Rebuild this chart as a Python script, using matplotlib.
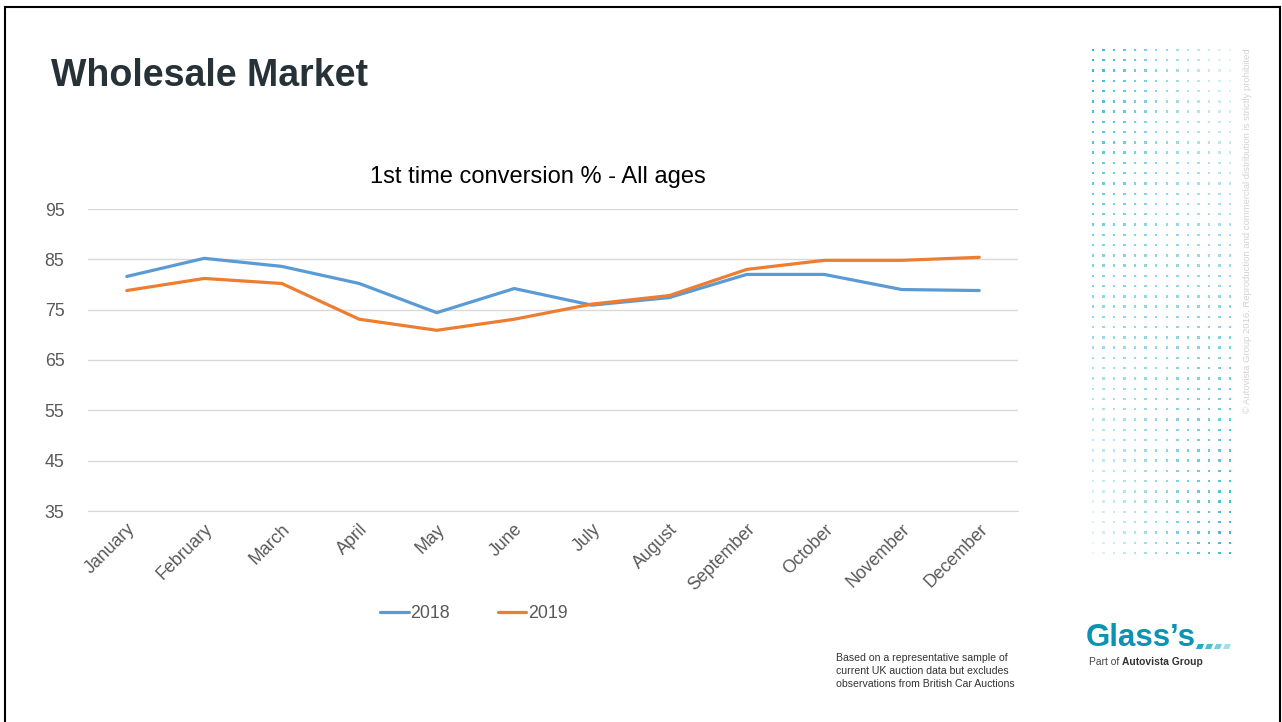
import numpy as np
import matplotlib
matplotlib.use('Agg')
import matplotlib.pyplot as plt
from matplotlib.lines import Line2D

# --- dati ---
mesi = ['January', 'February', 'March', 'April', 'May', 'June', 'July',
        'August', 'September', 'October', 'November', 'December']
conv_2018 = [81.6, 85.2, 83.6, 80.2, 74.4, 79.2, 75.9, 77.4, 82.0, 82.0, 79.0, 78.8]
conv_2019 = [78.8, 81.2, 80.2, 73.1, 70.9, 73.1, 76.1, 77.8, 83.0, 84.8, 84.8, 85.4]
y_ticks = [35, 45, 55, 65, 75, 85, 95]

BLU = '#5B9BD5'
ARANCIO = '#ED7D31'
GRIGIO = '#595959'

plt.rcParams['font.family'] = ['Liberation Sans', 'DejaVu Sans']

W, H = 1282, 722
fig = plt.figure(figsize=(W / 100, H / 100), dpi=100)


def fx(px):
    return px / W


def fy(py):
    return 1 - py / H


# cornice della slide
fig.add_artist(Line2D([fx(5), fx(5)], [fy(7), 0], color='black', lw=1.5))
fig.add_artist(Line2D([fx(5), fx(1280)], [fy(7), fy(7)], color='black', lw=1.5))
fig.add_artist(Line2D([fx(1280), fx(1280)], [fy(7), 0], color='black', lw=1.5))

# titolo della slide
fig.text(fx(51), fy(76), 'Wholesale Market', fontsize=27, fontweight='bold',
         color='#263238', va='center', ha='left')

# --- grafico principale ---
ax = fig.add_axes([fx(88), fy(511), fx(1018) - fx(88), (511 - 209) / H])
x = np.arange(len(mesi))
ax.plot(x, conv_2018, color=BLU, lw=2.3, label='2018', solid_capstyle='round')
ax.plot(x, conv_2019, color=ARANCIO, lw=2.3, label='2019', solid_capstyle='round')

ax.set_xlim(-0.5, len(mesi) - 0.5)
ax.set_ylim(35, 95)
ax.set_yticks(y_ticks)
ax.set_xticks(x)
ax.set_xticklabels(mesi, rotation=45, ha='right', rotation_mode='anchor')
ax.tick_params(axis='both', length=0, labelsize=12.8, labelcolor=GRIGIO)
ax.tick_params(axis='y', pad=17)
ax.tick_params(axis='x', pad=7)
ax.grid(axis='y', color='#D9D9D9', lw=1)
ax.set_axisbelow(True)
for s in ax.spines.values():
    s.set_visible(False)
ax.spines['bottom'].set_visible(True)
ax.spines['bottom'].set_color('#D9D9D9')

fig.text(fx(538), fy(177), '1st time conversion % - All ages', fontsize=17,
         color='black', ha='center', va='center')

leg = ax.legend(loc='center', bbox_to_anchor=(fx(474), fy(614)),
                bbox_transform=fig.transFigure, ncol=2, frameon=False,
                fontsize=12.8, handlelength=1.6, handletextpad=0.1,
                columnspacing=2.7)
for t in leg.get_texts():
    t.set_color(GRIGIO)

# nota a piè di pagina
fig.text(fx(836), fy(653), 'Based on a representative sample of\n'
         'current UK auction data but excludes\n'
         'observations from British Car Auctions',
         fontsize=7.6, color='#333333', ha='left', va='top', linespacing=1.38)

# --- decorazione a puntini ---
cols, rows = 14, 50
gx = np.linspace(1093, 1230, cols)
gy = np.linspace(50, 553, rows)
XX, YY = np.meshgrid(gx, gy)
c = (XX - gx[0]) / (gx[-1] - gx[0])
r = (YY - gy[0]) / (gy[-1] - gy[0])
alpha = 0.1 + 0.8 * ((1 - c) * (1 - r) + c * r)
colori = np.zeros((XX.size, 4))
colori[:, :3] = matplotlib.colors.to_rgb('#1AB2C8')
colori[:, 3] = alpha.ravel()
dec = fig.add_axes([0, 0, 1, 1], zorder=-1)
dec.set_xlim(0, W)
dec.set_ylim(H, 0)
dec.axis('off')
dec.scatter(XX.ravel(), YY.ravel(), s=3.0, c=colori, marker='s', linewidths=0)

fig.text(fx(1247), fy(48), '© Autovista Group 2016. Reproduction and commercial '
         'distribution is strictly prohibited', rotation=90, fontsize=6.8,
         color='#D3D3D3', ha='center', va='top')

# logo
fig.text(fx(1086), fy(638), 'Glass\u2019s', fontsize=22.5, color='#0B93B3',
         ha='left', va='center', fontweight='bold')
for i, a in enumerate([1.0, 0.8, 0.6, 0.4]):
    dec.add_patch(matplotlib.patches.Polygon(
        [[1196 + i * 9, 649], [1202 + i * 9, 649], [1204 + i * 9, 644], [1198 + i * 9, 644]],
        closed=True, color='#23A9C9', alpha=a, lw=0))
fig.text(fx(1089), fy(662), 'Part of', fontsize=7.4, color='#444444',
         ha='left', va='center')
fig.text(fx(1122), fy(662), 'Autovista Group', fontsize=7.4, color='#333333',
         ha='left', va='center', fontweight='bold')

fig.savefig('out.png', dpi=100)
